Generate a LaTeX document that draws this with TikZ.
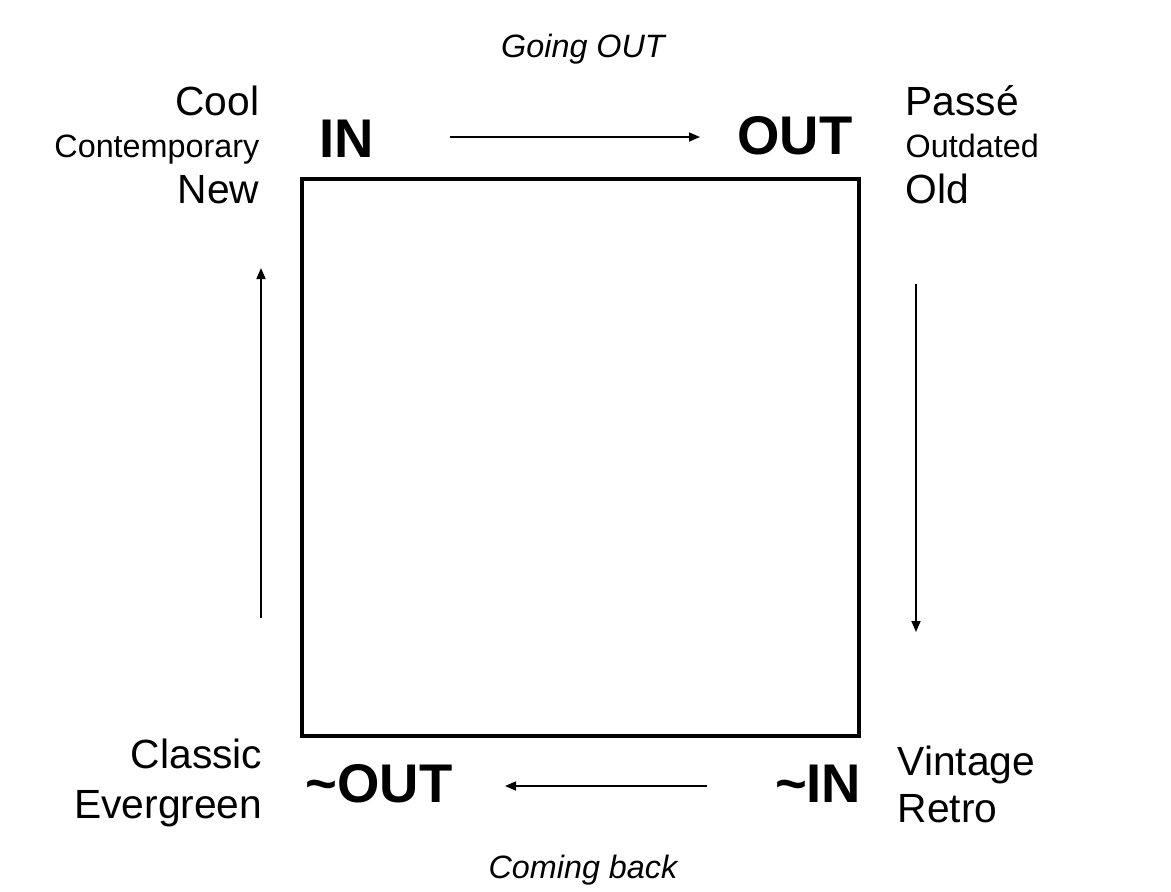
\documentclass[tikz,border=0pt]{standalone}
\usepackage{fontspec}
\setmainfont{Liberation Sans}
\usetikzlibrary{arrows.meta,positioning}

\begin{document}
\begin{tikzpicture}[
  every node/.style={inner sep=0pt},
  word/.style={font=\fontsize{11.6}{13}\selectfont},
  smallword/.style={font=\fontsize{9.2}{11}\selectfont},
  state/.style={font=\fontsize{15.5}{17}\selectfont\bfseries},
  phase/.style={font=\fontsize{9.2}{11}\selectfont\itshape},
  flow/.style={-{Triangle[length=1.1mm,width=0.9mm]},line width=0.45pt},
]
  \useasboundingbox (0,0) rectangle (11.71,8.91);

  % The square
  \node[draw,line width=1.2pt,minimum width=5.57cm,minimum height=5.57cm] (box) at (5.805,4.335) {};

  % Corner states
  \node[state,anchor=base west] (in) at (3.19,7.34) {IN};
  \node[state,anchor=base east] (out) at (8.53,7.36) {OUT};
  \node[state,anchor=base east] (tin) at (8.62,0.89) {\textasciitilde IN};
  \node[state,anchor=base west] (tout) at (3.05,0.89) {\textasciitilde OUT};

  % Phases
  \node[phase,anchor=base] (going) at (5.83,8.34) {Going OUT};
  \node[phase,anchor=base] (coming) at (5.83,0.13) {Coming back};

  % Left top words
  \node[word,anchor=base east] (cool) at (2.60,7.76) {Cool};
  \node[smallword,anchor=base east] (contemp) at (2.60,7.34) {Contemporary};
  \node[word,anchor=base east] (new) at (2.60,6.88) {New};

  % Right top words
  \node[word,anchor=base west] (passe) at (9.05,7.76) {Passé};
  \node[smallword,anchor=base west] (outdated) at (9.05,7.34) {Outdated};
  \node[word,anchor=base west] (old) at (9.05,6.88) {Old};

  % Bottom words
  \node[word,anchor=base east] (classic) at (2.63,1.23) {Classic};
  \node[word,anchor=base east] (evergreen) at (2.63,0.73) {Evergreen};
  \node[word,anchor=base west] (vintage) at (8.97,1.16) {Vintage};
  \node[word,anchor=base west] (retro) at (8.97,0.69) {Retro};

  % Arrow ends
  \coordinate (ta) at (4.50,7.54);
  \coordinate (tb) at (7.00,7.54);
  \coordinate (ra) at (9.16,6.07);
  \coordinate (rb) at (9.16,2.59);
  \coordinate (ba) at (7.07,1.05);
  \coordinate (bb) at (5.05,1.05);
  \coordinate (la) at (2.61,2.73);
  \coordinate (lb) at (2.61,6.23);

  \draw[flow] (ta) -- (tb);
  \draw[flow] (ra) -- (rb);
  \draw[flow] (ba) -- (bb);
  \draw[flow] (la) -- (lb);
\end{tikzpicture}
\end{document}
